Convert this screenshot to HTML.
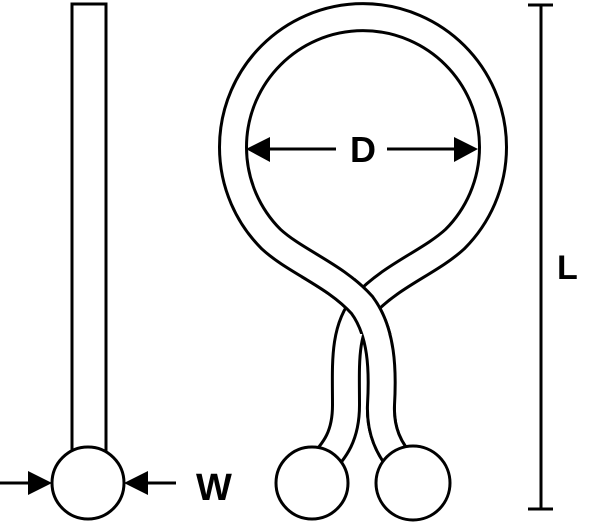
<!DOCTYPE html>
<html><head><style>
html,body{margin:0;padding:0;background:#fff;width:600px;height:523px;overflow:hidden}
svg{display:block}
</style></head><body>
<svg width="600" height="523" viewBox="0 0 600 523" xmlns="http://www.w3.org/2000/svg">
<defs>
<clipPath id="cx"><rect x="300" y="278" width="130" height="56"/><rect x="300" y="405" width="130" height="70"/></clipPath>
</defs>
<!-- left straight tie -->
<rect x="72" y="4" width="34" height="460" fill="#fff" stroke="#000" stroke-width="3"/>
<circle cx="88" cy="483" r="36" fill="#fff" stroke="#000" stroke-width="3"/>
<line x1="0" y1="483" x2="40" y2="483" stroke="#000" stroke-width="3"/>
<polygon points="28,471 52,483 28,495" fill="#000"/>
<line x1="136" y1="483" x2="176" y2="483" stroke="#000" stroke-width="3"/>
<polygon points="148,471 124,483 148,495" fill="#000"/>
<text x="196" y="500" font-family="Liberation Sans, sans-serif" font-weight="bold" font-size="38">W</text>

<!-- loop tie -->
<path d="M318,468 C336,450 346,435 346,405 C346,365 343,330 364,305 C392,275 430,262 455,239 A130,130 0 1 0 271,239 C296,262 335,275 362,305 C382,332 383,370 381,405 C380,430 388,450 406,468" fill="none" stroke="#000" stroke-width="30"/>
<path d="M318,468 C336,450 346,435 346,405 C346,365 343,330 364,305 C392,275 430,262 455,239 A130,130 0 1 0 271,239 C296,262 335,275 362,305 C382,332 383,370 381,405 C380,430 388,450 406,468" fill="none" stroke="#fff" stroke-width="24"/>
<g clip-path="url(#cx)">
<path d="M271,239 C296,262 335,275 362,305 C382,332 383,370 381,405 C380,430 388,450 406,468" fill="none" stroke="#000" stroke-width="30"/>
<path d="M271,239 C296,262 335,275 362,305 C382,332 383,370 381,405 C380,430 388,450 406,468" fill="none" stroke="#fff" stroke-width="24"/>
</g>
<circle cx="312" cy="483" r="36" fill="#fff" stroke="#000" stroke-width="3"/>
<circle cx="413" cy="483" r="37" fill="#fff" stroke="#000" stroke-width="3"/>

<!-- D dimension -->
<line x1="262" y1="149" x2="336" y2="149" stroke="#000" stroke-width="3"/>
<polygon points="246,149 270,137 270,162" fill="#000"/>
<line x1="387" y1="149" x2="462" y2="149" stroke="#000" stroke-width="3"/>
<polygon points="478,149 454,137 454,162" fill="#000"/>
<text x="363" y="162" text-anchor="middle" font-family="Liberation Sans, sans-serif" font-weight="bold" font-size="36">D</text>

<!-- L dimension -->
<line x1="541" y1="4" x2="541" y2="510" stroke="#000" stroke-width="3"/>
<line x1="528" y1="5" x2="553" y2="5" stroke="#000" stroke-width="3"/>
<line x1="528" y1="509" x2="553" y2="509" stroke="#000" stroke-width="3"/>
<text x="557" y="279" font-family="Liberation Sans, sans-serif" font-weight="bold" font-size="34">L</text>
</svg>
</body></html>
